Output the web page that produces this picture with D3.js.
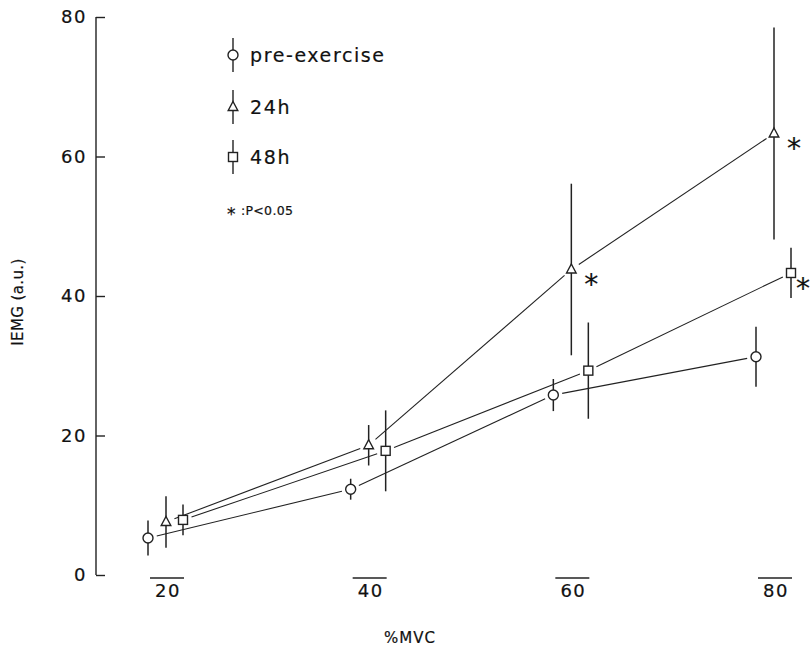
<!DOCTYPE html>
<html lang="en">
<head>
  <meta charset="UTF-8">
  <title>IEMG vs %MVC</title>
  <script src="https://cdn.jsdelivr.net/npm/d3@7"></script>
  <style>
    body { margin: 0; background: #fff; }
    text { font-family: 'DejaVu Sans', sans-serif; fill: #111; stroke: #111; stroke-width: 0.2px; }
  </style>
</head>
<body>
  <svg width="812" height="653"></svg>
  <script>
    // %MVC levels
    var levels = [20, 40, 60, 80]
    // mean IEMG (a.u.) and SD for each series
    var preMean = [5.3, 12.3, 25.8, 31.3]
    var preSd = [2.5, 1.5, 2.3, 4.3]
    var h24Mean = [7.6, 18.6, 43.8, 63.3]
    var h24Sd = [3.7, 2.9, 12.3, 15.2]
    var h48Mean = [7.9, 17.8, 29.3, 43.3]
    var h48Sd = [2.2, 5.8, 6.9, 3.6]
    var yTicks = [0, 20, 40, 60, 80]
    var xTicks = [20, 40, 60, 80]

    var svg = d3.select('svg')

    var x = d3.scaleLinear().domain([20, 80]).range([167, 775])
    var y = d3.scaleLinear().domain([0, 80]).range([575, 17])

    var series = [
      { name: 'pre-exercise', mean: preMean, sd: preSd, shape: 'circle', dx: -19, star: [] },
      { name: '24h', mean: h24Mean, sd: h24Sd, shape: 'triangle', dx: -1, star: [60, 80] },
      { name: '48h', mean: h48Mean, sd: h48Sd, shape: 'square', dx: 16, star: [80] }
    ]

    // y axis, ticks pointing inward
    var yAxis = svg.append('g')
      .attr('transform', 'translate(96,0)')
      .call(d3.axisLeft(y).tickValues(yTicks).tickSize(-9).tickPadding(9))
    yAxis.select('.domain').attr('stroke', '#222').attr('stroke-width', 1.4)
      .attr('d', 'M0,' + y(80) + 'V' + y(0))
    yAxis.selectAll('.tick line').attr('stroke', '#222').attr('stroke-width', 1.4)
    yAxis.selectAll('.tick text')
      .style('font-family', "'DejaVu Sans', sans-serif")
      .style('font-size', '18px').style('letter-spacing', '1.5px')
      .attr('fill', '#111')

    // x "axis": short bars with labels under them
    var xg = svg.append('g')
    xg.selectAll('line').data(xTicks).enter().append('line')
      .attr('x1', d => x(d) - 17).attr('x2', d => x(d) + 17)
      .attr('y1', 578).attr('y2', 578)
      .attr('stroke', '#222').attr('stroke-width', 1.4)
    xg.selectAll('text').data(xTicks).enter().append('text')
      .attr('x', d => x(d) + 1).attr('y', 597)
      .attr('text-anchor', 'middle')
      .style('font-size', '18px').style('letter-spacing', '1.5px')
      .text(d => d)

    svg.append('text')
      .attr('x', 410).attr('y', 643)
      .attr('text-anchor', 'middle')
      .style('font-size', '15px').style('letter-spacing', '1px')
      .text('%MVC')

    svg.append('text')
      .attr('transform', 'translate(23,302) rotate(-90)')
      .attr('text-anchor', 'middle')
      .style('font-size', '15px').style('letter-spacing', '0.4px')
      .text('IEMG (a.u.)')

    function drawMarker(g, shape) {
      if (shape === 'circle') {
        g.append('circle').attr('r', 5)
      } else if (shape === 'triangle') {
        g.append('path').attr('d', 'M0,-5.5L4.8,3.5L-4.8,3.5Z')
      } else {
        g.append('rect').attr('x', -4.5).attr('y', -4.5).attr('width', 9).attr('height', 9)
      }
      g.selectAll('circle,path,rect').attr('fill', '#fff').attr('stroke', '#222').attr('stroke-width', 1.4)
    }

    var gap = 9
    series.forEach(function (s) {
      var pts = levels.map((l, i) => ({ px: x(l) + s.dx, py: y(s.mean[i]), lev: l, m: s.mean[i], sd: s.sd[i] }))
      var g = svg.append('g')

      // connecting segments, stopped short of the markers
      for (var i = 0; i < pts.length - 1; i++) {
        var a = pts[i], b = pts[i + 1]
        var dx = b.px - a.px, dy = b.py - a.py
        var len = Math.sqrt(dx * dx + dy * dy)
        var ux = dx / len, uy = dy / len
        g.append('line')
          .attr('x1', a.px + ux * gap).attr('y1', a.py + uy * gap)
          .attr('x2', b.px - ux * gap).attr('y2', b.py - uy * gap)
          .attr('stroke', '#222').attr('stroke-width', 1.1)
      }

      // error bars
      g.selectAll('.err').data(pts).enter().append('line')
        .attr('class', 'err')
        .attr('x1', d => d.px).attr('x2', d => d.px)
        .attr('y1', d => y(d.m + d.sd)).attr('y2', d => y(d.m - d.sd))
        .attr('stroke', '#222').attr('stroke-width', 1.5)

      pts.forEach(function (d) {
        var mg = g.append('g').attr('transform', 'translate(' + d.px + ',' + d.py + ')')
        drawMarker(mg, s.shape)
        if (s.star.indexOf(d.lev) >= 0) {
          g.append('text')
            .attr('x', Math.min(d.px + 20, 803)).attr('y', d.py + 25)
            .attr('text-anchor', 'middle')
            .style('font-size', '28px')
            .text('*')
        }
      })
    })

    // legend
    var legend = svg.append('g').attr('transform', 'translate(233,0)')
    var legY = [55, 107, 157]
    series.forEach(function (s, i) {
      var lg = legend.append('g').attr('transform', 'translate(0,' + legY[i] + ')')
      lg.append('line').attr('y1', -17).attr('y2', 17).attr('stroke', '#222').attr('stroke-width', 1.4)
      drawMarker(lg, s.shape)
      lg.append('text').attr('x', 17).attr('y', 7).style('font-size', '19px').style('letter-spacing', '1.6px').text(s.name)
    })
    legend.append('text').attr('x', -6).attr('y', 220).style('font-size', '17px').text('*')
    legend.append('text').attr('x', 8).attr('y', 215).style('font-size', '12.5px').style('letter-spacing', '0.3px').text(':P<0.05')
  </script>
</body>
</html>
